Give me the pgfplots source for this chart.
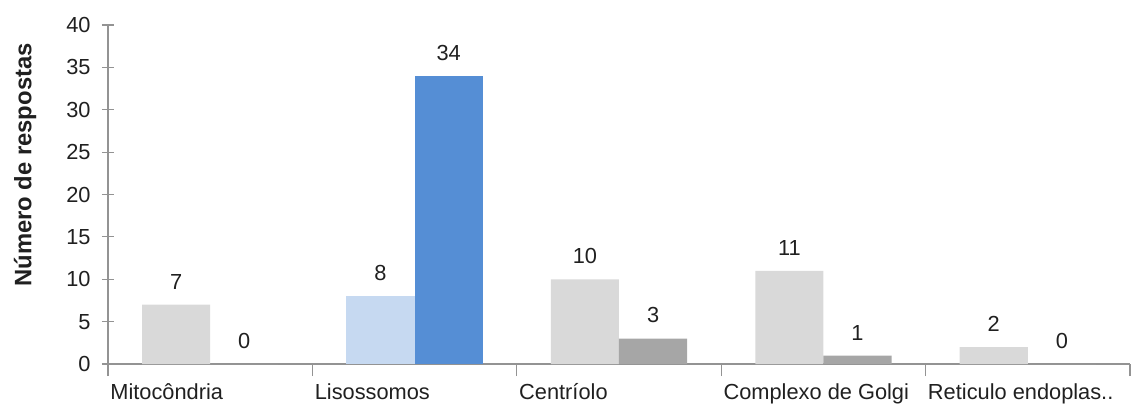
\documentclass[border=0pt]{standalone}
\usepackage{fontspec}
\setmainfont{Liberation Sans}
\usepackage{pgfplots}
\pgfplotsset{compat=1.18}
\definecolor{lgray}{HTML}{D9D9D9}
\definecolor{dgray}{HTML}{A6A6A6}
\definecolor{lblue}{HTML}{C6D9F1}
\definecolor{mblue}{HTML}{558ED5}
\definecolor{axgray}{HTML}{939393}
\definecolor{txt}{HTML}{202020}

\begin{document}
\begin{tikzpicture}
\path[use as bounding box] (-54pt,-22pt) rectangle (514.5pt,182pt);
\begin{axis}[
  at={(0pt,0pt)}, anchor=south west,
  scale only axis, width=511pt, height=169.5pt,
  xmin=-0.5, xmax=4.5, ymin=0, ymax=40,
  ytick={0,5,...,40},
  xtick={-0.5,0.5,1.5,2.5,3.5,4.5},
  xticklabels={Mitocôndria,Lisossomos,Centríolo,Complexo de Golgi,Reticulo endoplas..,{}},
  axis x line*=bottom, axis y line*=left,
  tick align=center, major tick length=6pt,
  tick style={axgray, line width=0.6pt},
  axis line style={axgray, line width=0.8pt},
  font=\fontsize{10.9}{12}\selectfont,
  /pgf/number format/assume math mode=true,
  yticklabel style={anchor=east, inner sep=0pt, xshift=-5.5pt, text=txt},
  xticklabel style={anchor=north west, inner sep=0pt, yshift=-3.5pt, xshift=1pt, text=txt},
  ylabel={Número de respostas},
  every axis y label/.style={at={(axis description cs:-0.0812,0.587)}, anchor=center, rotate=90,
    font=\bfseries\fontsize{11.9}{13}\selectfont, text=txt},
  ybar, bar width=0.3333,
  nodes near coords,
  every node near coord/.append style={font=\fontsize{10.9}{12}\selectfont, text=txt,
    anchor=south, inner sep=0pt, yshift=7.5pt},
  clip=false,
]
% first answer of each organelle
\addplot[fill=lgray, draw=none, bar shift=-0.16667] coordinates {(0,7) (2,10) (3,11) (4,2)};
\addplot[fill=lblue, draw=none, bar shift=-0.16667] coordinates {(1,8)};
% second answer of each organelle
\addplot[fill=dgray, draw=none, bar shift=0.16667] coordinates {(0,0) (2,3) (3,1) (4,0)};
\addplot[fill=mblue, draw=none, bar shift=0.16667] coordinates {(1,34)};
\end{axis}
\end{tikzpicture}
\end{document}
